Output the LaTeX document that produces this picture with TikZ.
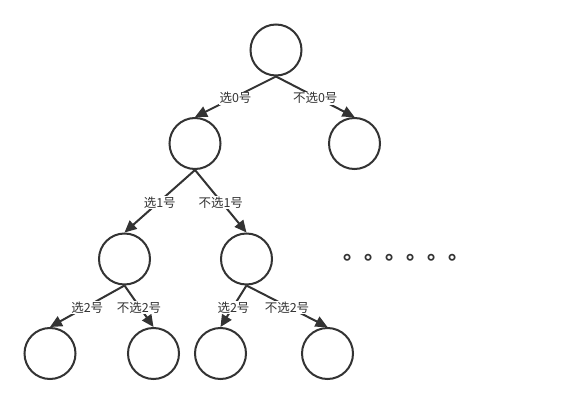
\documentclass[tikz,border=0pt]{standalone}
\usepackage{fontspec}
\setmainfont{Noto Sans CJK SC}
\usetikzlibrary{arrows.meta}
\definecolor{ink}{HTML}{333333}
\tikzset{
  st/.style={circle,draw=ink,line width=2pt,minimum size=51pt,inner sep=0pt},
  br/.style={draw=ink,line width=2pt,-{Triangle[length=12pt,width=11pt]}},
  lab/.style={fill=white,text=ink,font=\fontsize{12.5}{13}\selectfont,inner sep=1pt,yshift=-1.5pt}
}
\begin{document}
\begin{tikzpicture}[x=1pt,y=-1pt]
\useasboundingbox (0,0) rectangle (565,404);
\node[st] (r) at (276,50) {};
\node[st] (a) at (195,143.5) {};
\node[st] (b) at (354.5,143.5) {};
\node[st] (c) at (124.5,259) {};
\node[st] (d) at (246.5,259) {};
\node[st] (e) at (50,353.5) {};
\node[st] (f) at (153.5,353.5) {};
\node[st] (g) at (220.5,353.5) {};
\node[st] (h) at (327.5,353.5) {};
\draw[br] (r.south) -- node[lab]{选0号} (a.north);
\draw[br] (r.south) -- node[lab]{不选0号} (b.north);
\draw[br] (a.south) -- node[lab]{选1号} (c.north);
\draw[br] (a.south) -- node[lab]{不选1号} (d.north);
\draw[br] (c.south) -- node[lab]{选2号} (e.north);
\draw[br] (c.south) -- node[lab]{不选2号} (f.north);
\draw[br] (d.south) -- node[lab]{选2号} (g.north);
\draw[br] (d.south) -- node[lab]{不选2号} (h.north);
\node[text=ink,font=\fontsize{21}{22}\selectfont\bfseries,anchor=base west,inner sep=0pt] (dots) at (343.5,259.5) {。。。。。。};
\end{tikzpicture}
\end{document}
